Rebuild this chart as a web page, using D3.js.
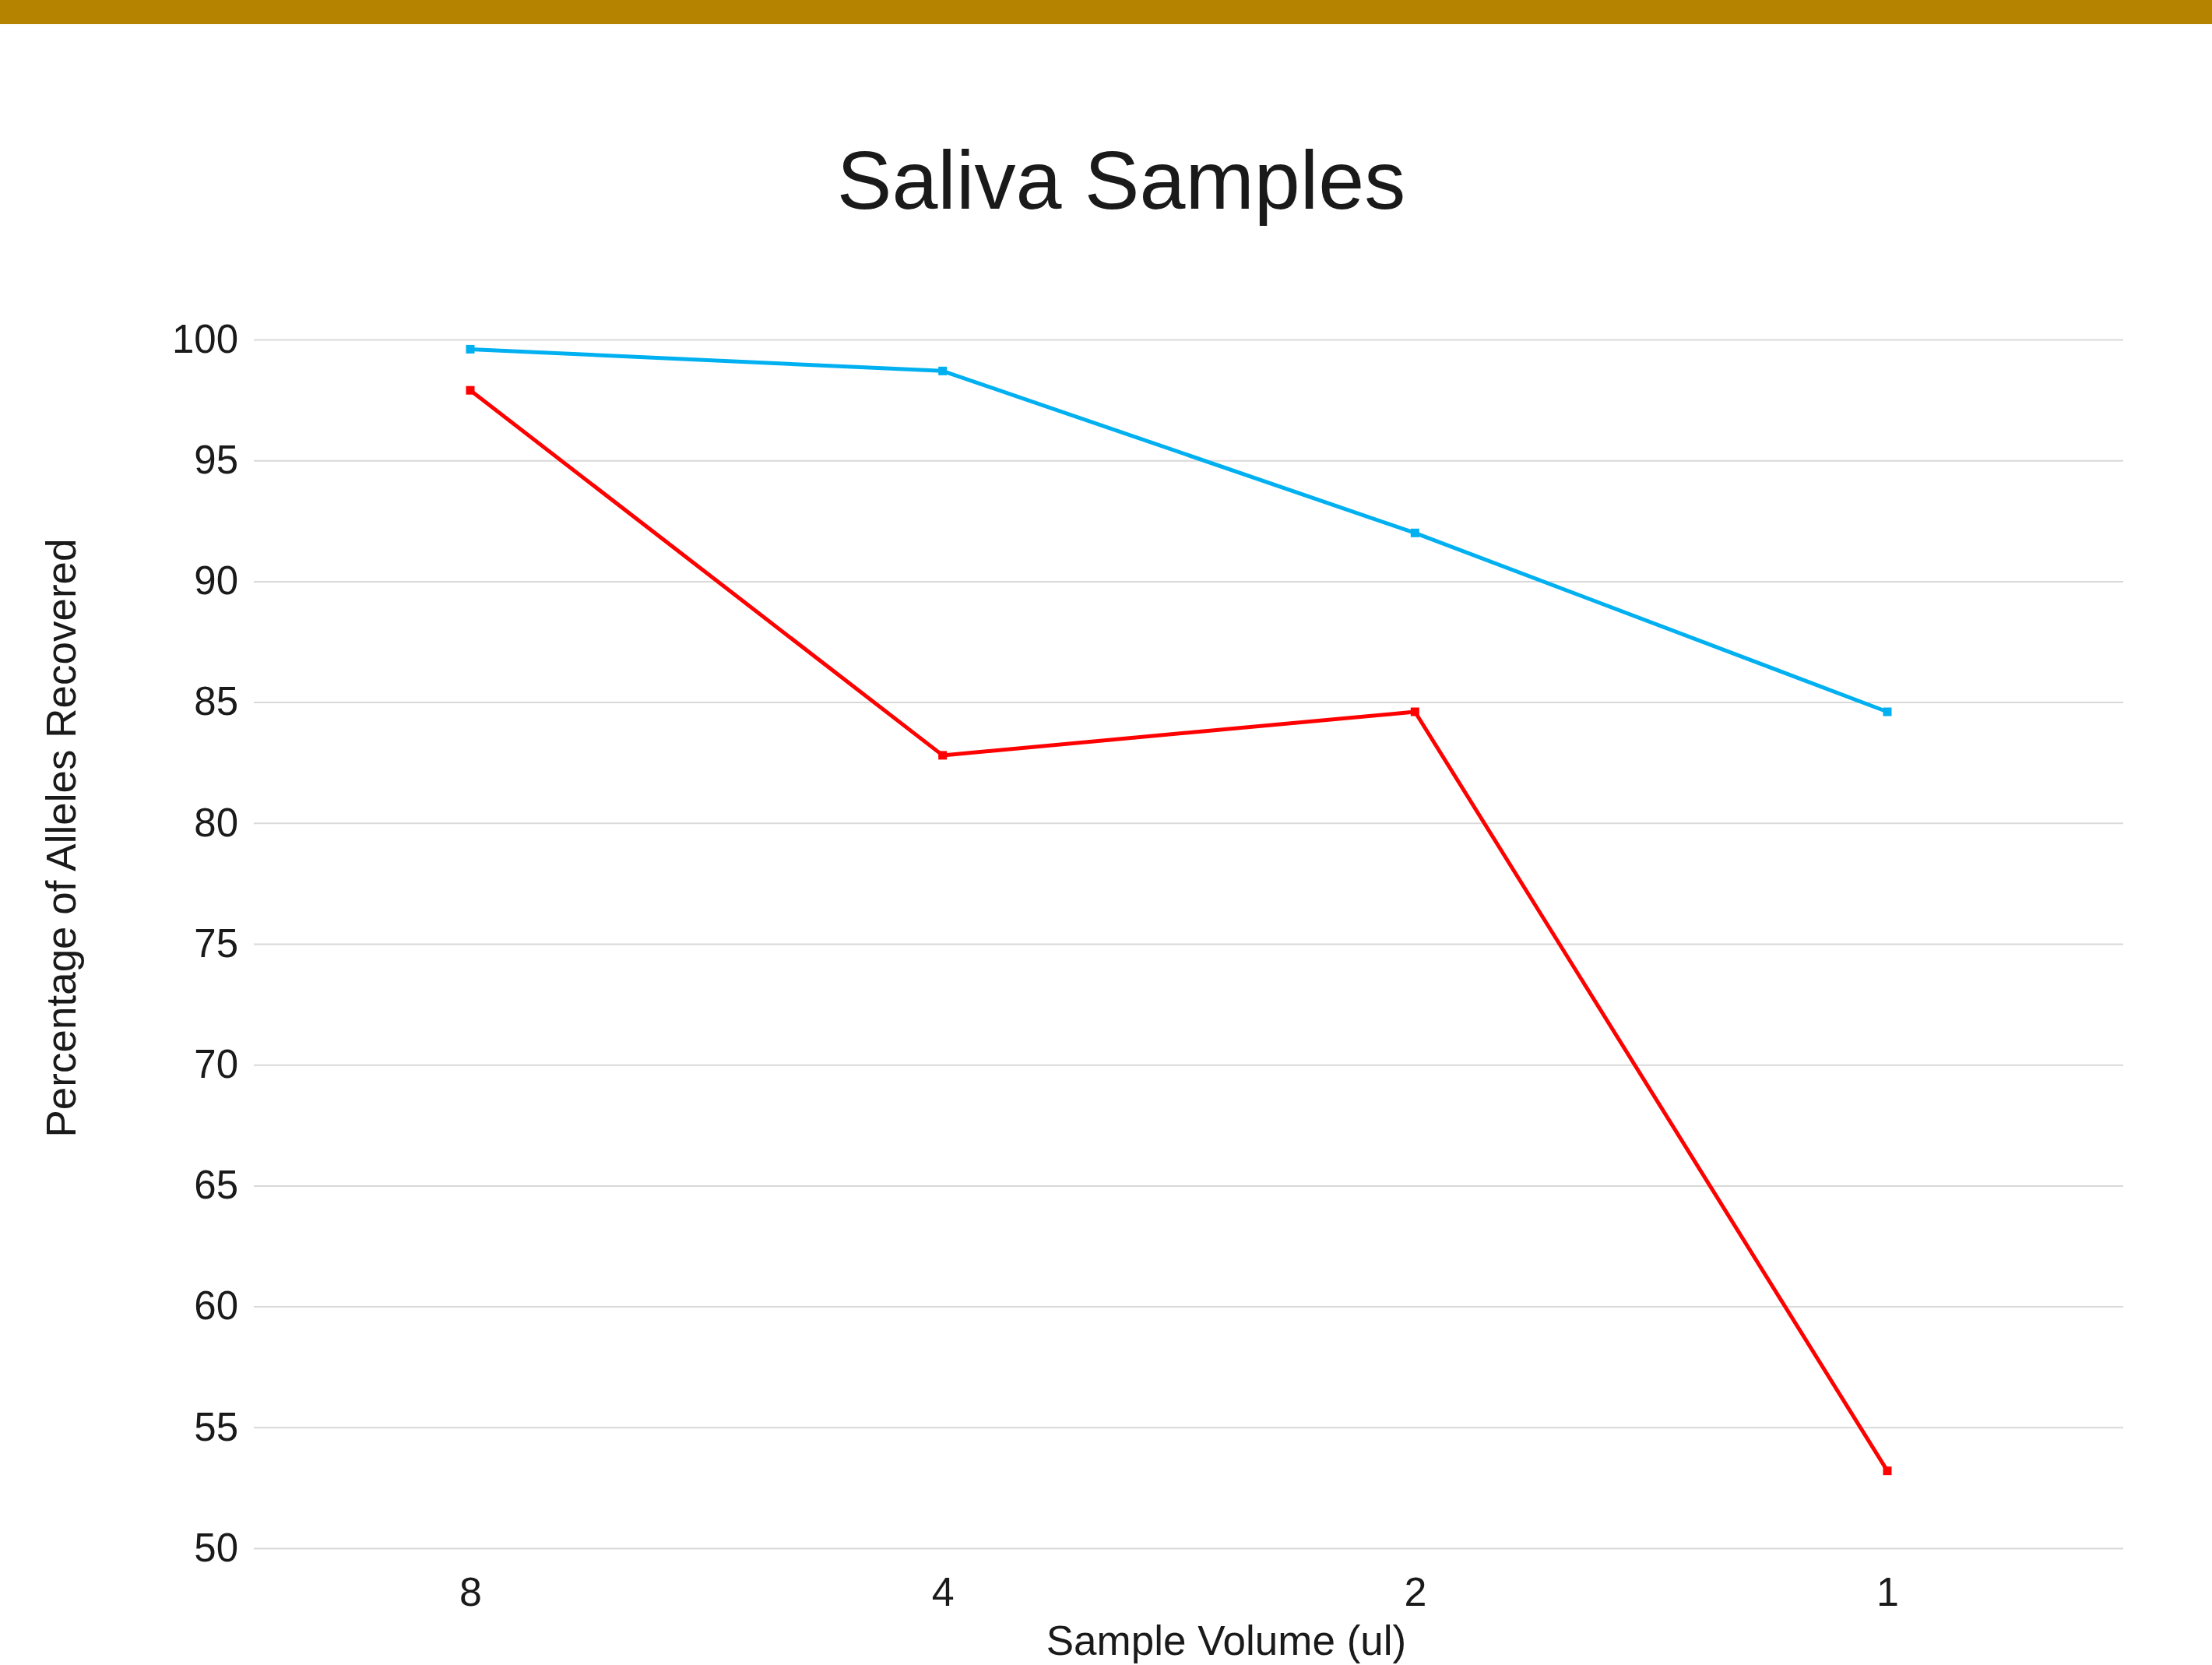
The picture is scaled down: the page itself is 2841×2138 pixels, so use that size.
<!DOCTYPE html>
<html>
<head>
<meta charset="utf-8">
<script src="https://cdn.jsdelivr.net/npm/d3@7"></script>
<style>
  body { margin: 0; background: #fff; }
  svg { display: block; font-family: "Liberation Sans", Arial, sans-serif; }
</style>
</head>
<body>
<svg width="2841" height="2138"></svg>
<script>
// sample volumes (ul) on the x axis
const volumes = ["8", "4", "2", "1"];
// percentage of alleles recovered, two series
const blueSeries = [99.6, 98.7, 92.0, 84.6];
const redSeries = [97.9, 82.8, 84.6, 53.2];
const yTicks = [50, 55, 60, 65, 70, 75, 80, 85, 90, 95, 100];

const svg = d3.select("svg");
const W = 2841, H = 2138;

// gold band across the top
svg.append("rect").attr("x", 0).attr("y", 0).attr("width", W).attr("height", 31).attr("fill", "#b58300");

const plot = {left: 326, right: 2727, top: 436, bottom: 1988};

const x = d3.scalePoint().domain(volumes).range([604, 2424]);
const y = d3.scaleLinear().domain([50, 100]).range([plot.bottom, plot.top]);

// y axis with gridlines
const yAxis = d3.axisLeft(y).tickValues(yTicks).tickSize(-(plot.right - plot.left)).tickPadding(20);
const gy = svg.append("g").attr("transform", `translate(${plot.left},0)`).call(yAxis);
gy.select(".domain").remove();
gy.selectAll(".tick line").attr("stroke", "#d9d9d9").attr("stroke-width", 2);
gy.selectAll(".tick text").attr("fill", "#1a1a1a").style("font-size", "51px")
  .style("font-family", "'Liberation Sans', Arial, sans-serif");

// x axis, labels only
const xAxis = d3.axisBottom(x).tickSize(0).tickPadding(0);
const gx = svg.append("g").attr("transform", `translate(0,${plot.bottom})`).call(xAxis);
gx.select(".domain").remove();
gx.selectAll(".tick text").attr("fill", "#1a1a1a").attr("dy", null).attr("y", 74)
  .style("font-size", "52px").style("font-family", "'Liberation Sans', Arial, sans-serif");

const line = d3.line().x((d, i) => x(volumes[i])).y(d => y(d));

function drawSeries(vals, color) {
  svg.append("path").datum(vals).attr("d", line)
    .attr("fill", "none").attr("stroke", color).attr("stroke-width", 5).attr("stroke-linejoin", "round");
  svg.append("g").selectAll("rect").data(vals).join("rect")
    .attr("x", (d, i) => x(volumes[i]) - 5.5)
    .attr("y", d => y(d) - 5.5)
    .attr("width", 11).attr("height", 11)
    .attr("fill", color);
}
drawSeries(blueSeries, "#00b0f0");
drawSeries(redSeries, "#ff0000");

// title and axis titles
svg.append("text").attr("x", 1440).attr("y", 268).attr("text-anchor", "middle")
  .attr("fill", "#1a1a1a").style("font-size", "106px").text("Saliva Samples");

svg.append("text").attr("x", 1575).attr("y", 2125).attr("text-anchor", "middle")
  .attr("fill", "#1a1a1a").style("font-size", "53px").text("Sample Volume (ul)");

svg.append("text").attr("transform", "translate(97,1076) rotate(-90)").attr("text-anchor", "middle")
  .attr("fill", "#1a1a1a").style("font-size", "53px").text("Percentage of Alleles Recovered");
</script>
</body>
</html>
